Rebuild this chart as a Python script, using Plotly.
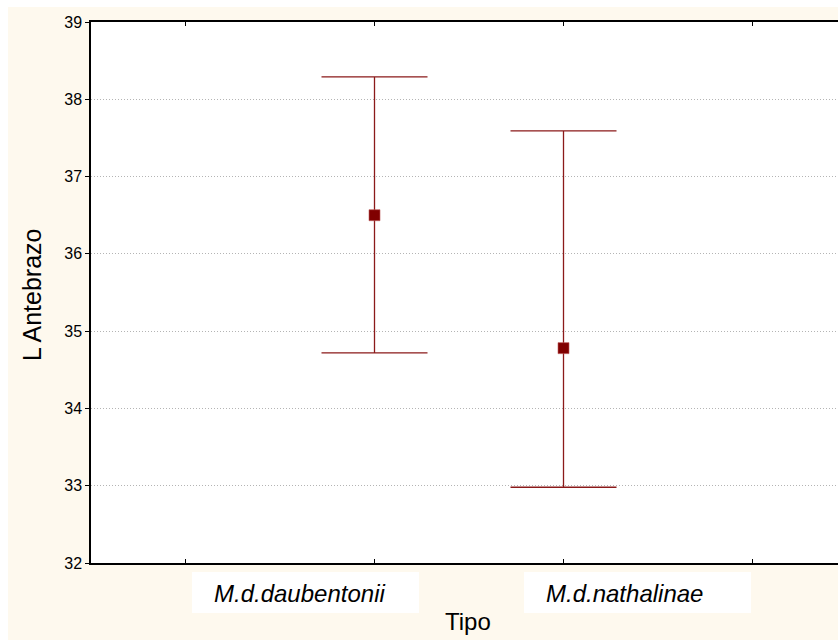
import plotly.graph_objects as go

# Data
categories = ["M.d.daubentonii", "M.d.nathalinae"]
cat_pos = [1, 2]
means = [36.50, 34.78]
upper = [38.29, 37.59]
lower = [34.72, 32.98]
y_ticks = [32, 33, 34, 35, 36, 37, 38, 39]

W, H = 838, 640
L, R, T, B = 91, 0, 22, 77
PW, PH = W - L - R, H - T - B

def px(x):
    return (x - L) / PW

def py(y):
    return (H - B - y) / PH

FONT = "Liberation Sans, Arial, sans-serif"
RED = "#800000"
LINE_RED = "#8b1a1a"

err_plus = [u - m for u, m in zip(upper, means)]
err_minus = [m - l for m, l in zip(means, lower)]

fig = go.Figure()
fig.add_trace(go.Scatter(
    x=cat_pos, y=means, mode="markers",
    marker=dict(symbol="square", size=11, color=RED,
                line=dict(color="rgba(190,90,90,0.6)", width=1)),
    error_y=dict(type="data", array=err_plus, arrayminus=err_minus,
                 color=LINE_RED, thickness=1.3, width=53, symmetric=False),
    showlegend=False, hoverinfo="skip",
))

shapes = [
    # white outer border strips (top and left)
    dict(type="rect", xref="paper", yref="paper", x0=px(0), x1=px(8), y0=py(H), y1=py(0),
         fillcolor="white", line_width=0, layer="below"),
    dict(type="rect", xref="paper", yref="paper", x0=px(0), x1=px(W), y0=py(7), y1=py(0),
         fillcolor="white", line_width=0, layer="below"),
]
annotations = []
label_boxes = [(192, 419), (524, 751)]
for (bx0, bx1), name in zip(label_boxes, categories):
    shapes.append(dict(type="rect", xref="paper", yref="paper",
                       x0=px(bx0), x1=px(bx1), y0=py(613), y1=py(572),
                       fillcolor="white", line_width=0, layer="below"))
    annotations.append(dict(text="<i>" + name + "</i>", xref="paper", yref="paper",
                            x=px(bx0 + 20), y=py(593), xanchor="left", yanchor="middle",
                            showarrow=False, font=dict(family=FONT, size=24, color="black")))

annotations.append(dict(text="Tipo", xref="paper", yref="paper", x=px(468), y=py(621),
                        xanchor="center", yanchor="middle", showarrow=False,
                        font=dict(family=FONT, size=24, color="black")))
annotations.append(dict(text="L Antebrazo", xref="paper", yref="paper", x=px(32), y=py(295),
                        xanchor="center", yanchor="middle", textangle=-90, showarrow=False,
                        font=dict(family=FONT, size=25, color="black")))

fig.update_layout(
    width=W, height=H,
    margin=dict(l=L, r=R, t=T, b=B, pad=0),
    paper_bgcolor="#fef9ee",
    plot_bgcolor="white",
    shapes=shapes,
    annotations=annotations,
    xaxis=dict(range=[-0.5, -0.5 + (W - L - R) / 189.0], tickvals=[0, 1, 2, 3],
               showticklabels=False, ticks="inside", ticklen=4, tickwidth=1, tickcolor="black",
               showline=True, linecolor="black", linewidth=1.5, mirror="allticks",
               showgrid=False, zeroline=False, fixedrange=True),
    yaxis=dict(range=[32, 39], tickvals=y_ticks, ticktext=[str(v) for v in y_ticks],
               ticks="outside", ticklen=4, tickwidth=1, tickcolor="black",
               showline=True, linecolor="black", linewidth=1.5,
               showgrid=True, gridcolor="#b4b4b4", griddash="1px,2px", gridwidth=1,
               zeroline=False, tickfont=dict(family=FONT, size=16, color="black"),
               fixedrange=True),
    font=dict(family=FONT, color="black"),
)

fig.write_html("out.html", config={"displayModeBar": False})
